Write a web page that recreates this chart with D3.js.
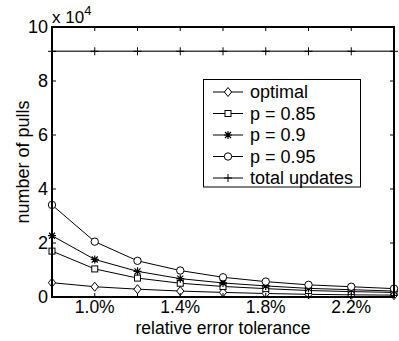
<!DOCTYPE html>
<html>
<head>
<meta charset="utf-8">
<script src="https://cdn.jsdelivr.net/npm/d3@7"></script>
<style>
  body { margin: 0; background: #fff; }
  text { font-family: "Liberation Sans", Arial, sans-serif; fill: #000; }
</style>
</head>
<body>
<svg id="chart"></svg>
<script>
// error tolerance (%) and number of pulls (x 10^4)
var tolerance = [0.8, 1.0, 1.2, 1.4, 1.6, 1.8, 2.0, 2.2, 2.4];
var optimal   = [0.53, 0.38, 0.29, 0.22, 0.17, 0.13, 0.10, 0.08, 0.07];
var p085      = [1.70, 1.04, 0.70, 0.51, 0.39, 0.31, 0.24, 0.20, 0.17];
var p090      = [2.27, 1.39, 0.95, 0.68, 0.52, 0.41, 0.32, 0.27, 0.22];
var p095      = [3.41, 2.05, 1.34, 0.98, 0.73, 0.57, 0.45, 0.38, 0.31];
var totalUpdates = [9.1, 9.1, 9.1, 9.1, 9.1, 9.1, 9.1, 9.1, 9.1];

var xTicks = [1.0, 1.2, 1.4, 1.6, 1.8, 2.0, 2.2];
var xTickLabels = {"1": "1.0%", "1.4": "1.4%", "1.8": "1.8%", "2.2": "2.2%"};
var yTicks = [0, 2, 4, 6, 8, 10];

var series = [
  {name: "optimal", values: optimal, marker: "diamond"},
  {name: "p = 0.85", values: p085, marker: "square"},
  {name: "p = 0.9", values: p090, marker: "star"},
  {name: "p = 0.95", values: p095, marker: "circle"},
  {name: "total updates", values: totalUpdates, marker: "plus"}
];

var width = 399, height = 341;
var margin = {left: 52, right: 5, top: 27, bottom: 44};

var svg = d3.select("#chart")
            .attr("width", width)
            .attr("height", height);

svg.append("rect").attr("width", width).attr("height", height).attr("fill", "#fff");

var x = d3.scaleLinear().domain([0.8, 2.4]).range([margin.left, width - margin.right]);
var y = d3.scaleLinear().domain([0, 10]).range([height - margin.bottom, margin.top]);

// draws one marker shape centered on 0,0
function drawMarker(g, type) {
  if (type == "circle") {
    g.append("circle").attr("r", 3.7).attr("fill", "#fff").attr("stroke", "#000");
  } else if (type == "square") {
    g.append("rect").attr("x", -3).attr("y", -3).attr("width", 6).attr("height", 6)
     .attr("fill", "#fff").attr("stroke", "#000");
  } else if (type == "diamond") {
    g.append("path").attr("d", "M0,-4.5L3.6,0L0,4.5L-3.6,0Z")
     .attr("fill", "#fff").attr("stroke", "#000");
  } else if (type == "star") {
    g.append("path").attr("d", "M-4,0H4M0,-4V4M-3,-3L3,3M-3,3L3,-3")
     .attr("stroke", "#000").attr("stroke-width", 1.2);
  } else if (type == "plus") {
    g.append("path").attr("d", "M-4,0H4M0,-4V4").attr("stroke", "#000");
  }
}

var line = d3.line()
             .x(function(d, i) { return x(tolerance[i]); })
             .y(function(d) { return y(d); });

var plot = svg.append("g");

series.forEach(function(s) {
  plot.append("path")
      .attr("d", line(s.values))
      .attr("fill", "none")
      .attr("stroke", s.marker == "plus" ? "#444" : "#000")
      .attr("stroke-width", s.marker == "plus" ? 1.4 : 1);
});

series.forEach(function(s) {
  s.values.forEach(function(v, i) {
    var g = plot.append("g")
                .attr("transform", "translate(" + x(tolerance[i]) + "," + y(v) + ")");
    drawMarker(g, s.marker);
  });
});

// axes box with inward ticks (matlab style)
var x0 = x.range()[0], x1 = x.range()[1], y0 = y.range()[0], y1 = y.range()[1];

var axes = svg.append("g");
axes.append("rect")
    .attr("x", x0).attr("y", y1)
    .attr("width", x1 - x0).attr("height", y0 - y1)
    .attr("fill", "none").attr("stroke", "#000").attr("stroke-width", 2);

xTicks.forEach(function(t) {
  axes.append("line").attr("x1", x(t)).attr("x2", x(t)).attr("y1", y0).attr("y2", y0 - 4)
      .attr("stroke", "#000");
  axes.append("line").attr("x1", x(t)).attr("x2", x(t)).attr("y1", y1).attr("y2", y1 + 4)
      .attr("stroke", "#000");
  var lab = xTickLabels[String(+t.toFixed(1))];
  if (lab) {
    axes.append("text").attr("x", x(t)).attr("y", 313)
        .attr("text-anchor", "middle").attr("font-size", 17.5).text(lab);
  }
});

yTicks.forEach(function(t) {
  axes.append("line").attr("x1", x0).attr("x2", x0 + 4).attr("y1", y(t)).attr("y2", y(t))
      .attr("stroke", "#000");
  axes.append("line").attr("x1", x1).attr("x2", x1 - 4).attr("y1", y(t)).attr("y2", y(t))
      .attr("stroke", "#000");
  axes.append("text").attr("x", 48).attr("y", y(t)).attr("dy", "0.35em")
      .attr("text-anchor", "end").attr("font-size", 18).text(t);
});

// exponent label
var ex = svg.append("text").attr("x", 52).attr("y", 23).attr("font-size", 17);
ex.append("tspan").text("x 10");
ex.append("tspan").attr("dy", -8).attr("font-size", 13).text("4");

svg.append("text")
   .attr("x", (x0 + x1) / 2).attr("y", 334)
   .attr("text-anchor", "middle").attr("font-size", 17.5)
   .text("relative error tolerance");

svg.append("text")
   .attr("transform", "translate(29," + ((y0 + y1) / 2) + ") rotate(-90)")
   .attr("text-anchor", "middle").attr("font-size", 18)
   .text("number of pulls");

// legend
var legend = svg.append("g");
legend.append("rect")
      .attr("x", 203.5).attr("y", 79.5).attr("width", 157).attr("height", 107.5)
      .attr("fill", "#fff").attr("stroke", "#000");

series.forEach(function(s, i) {
  var ly = 92 + i * 21.5;
  legend.append("line").attr("x1", 213).attr("x2", 243).attr("y1", ly).attr("y2", ly)
        .attr("stroke", "#000");
  var g = legend.append("g").attr("transform", "translate(228," + ly + ")");
  drawMarker(g, s.marker);
  legend.append("text").attr("x", 250).attr("y", ly).attr("dy", "0.35em")
        .attr("font-size", 18).text(s.name);
});
</script>
</body>
</html>
